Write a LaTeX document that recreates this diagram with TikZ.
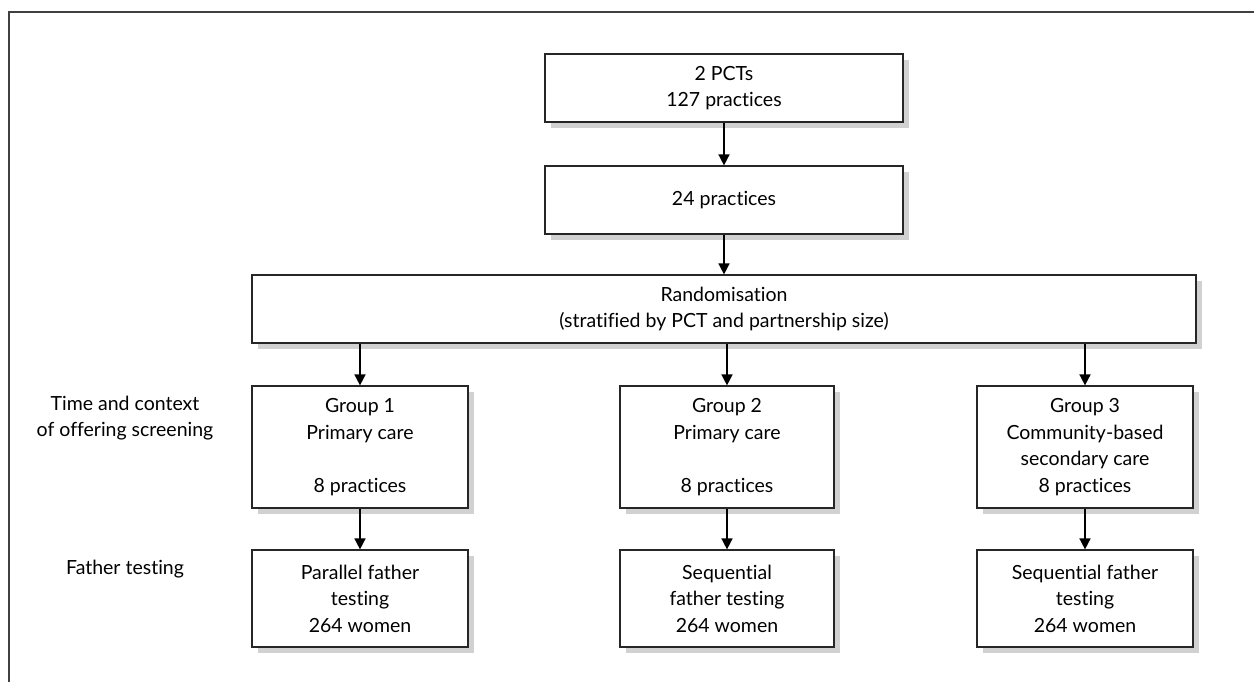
\documentclass[tikz,border=0pt]{standalone}
\usepackage{fontspec}
\setmainfont{Lato}[Ligatures=NoCommon]
\usetikzlibrary{arrows.meta,shadows}
\begin{document}
\begin{tikzpicture}[x=1pt,y=-1pt,
  box/.style={draw=black!85, line width=1.2pt, fill=white, align=center, inner sep=0pt,
    font=\fontsize{19.5}{26.5}\selectfont,
    drop shadow={shadow xshift=6pt, shadow yshift=-6pt, fill=black!18, opacity=1}},
  lbl/.style={align=center, font=\fontsize{19.5}{26.5}\selectfont},
  arr/.style={line width=1.6pt, -{Triangle[length=11pt,width=11pt]}},
  frame/.style={draw=black!75, line width=1.5pt}]
\useasboundingbox (0,0) rectangle (1254,682);
\draw[frame] (9,682) -- (9,12) -- (1254,12);
\node[box, minimum width=358pt, minimum height=68pt] (pct) at (724,88) {2 PCTs\\127 practices};
\node[box, minimum width=358pt, minimum height=68pt] (p24) at (724,200) {24 practices};
\node[box, minimum width=944pt, minimum height=68pt] (rand) at (724,309) {Randomisation\\(stratified by PCT and partnership size)};
\node[box, minimum width=216pt, minimum height=122pt] (g1) at (360,447) {Group 1\\Primary care\\~\\8 practices};
\node[box, minimum width=214pt, minimum height=122pt] (g2) at (727,447) {Group 2\\Primary care\\~\\8 practices};
\node[box, minimum width=216pt, minimum height=122pt] (g3) at (1085,447) {Group 3\\Community-based\\secondary care\\8 practices};
\node[box, minimum width=216pt, minimum height=97pt] (f1) at (360,598.5) {Parallel father\\testing\\264 women};
\node[box, minimum width=214pt, minimum height=97pt] (f2) at (727,598.5) {Sequential\\father testing\\264 women};
\node[box, minimum width=216pt, minimum height=97pt] (f3) at (1085,598.5) {Sequential father\\testing\\264 women};
\node[lbl] (tc) at (125,418) {Time and context\\of offering screening};
\node[lbl] (ft) at (125,569) {Father testing};
\draw[arr] (pct) -- (p24);
\draw[arr] (p24) -- (rand);
\draw[arr] (rand.south -| g1) -- (g1.north);
\draw[arr] (rand.south -| g2) -- (g2.north);
\draw[arr] (rand.south -| g3) -- (g3.north);
\draw[arr] (g1) -- (f1);
\draw[arr] (g2) -- (f2);
\draw[arr] (g3) -- (f3);
\end{tikzpicture}
\end{document}
